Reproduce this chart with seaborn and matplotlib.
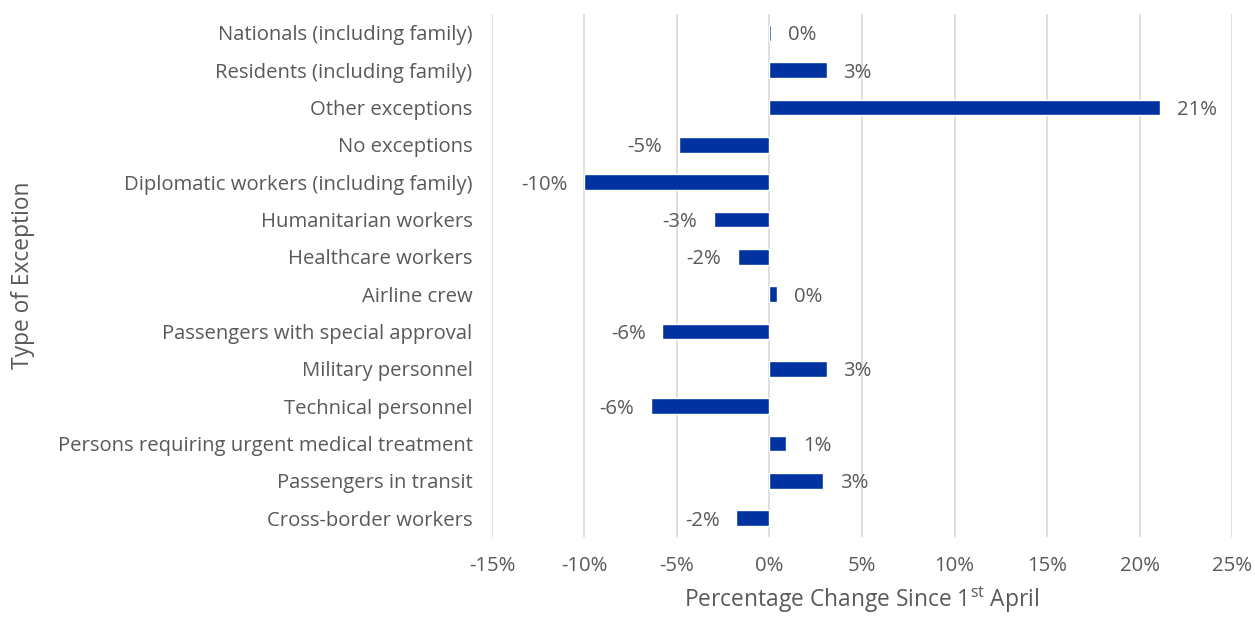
import numpy as np
import pandas as pd
import matplotlib
matplotlib.use("Agg")
import matplotlib.pyplot as plt
import seaborn as sns

# exception types, top to bottom as drawn
exceptions = [
  "Nationals (including family)",
  "Residents (including family)",
  "Other exceptions",
  "No exceptions",
  "Diplomatic workers (including family)",
  "Humanitarian workers",
  "Healthcare workers",
  "Airline crew",
  "Passengers with special approval",
  "Military personnel",
  "Technical personnel",
  "Persons requiring urgent medical treatment",
  "Passengers in transit",
  "Cross-border workers",
]

# percentage change since 1st April
pct_change = [0.1, 3.1, 21.1, -4.9, -10.0, -3.0, -1.7, 0.4, -5.8, 3.1, -6.4, 0.9, 2.9, -1.8]

xticks = [-15, -10, -5, 0, 5, 10, 15, 20, 25]

bar_colour = "#0033A0"
text_colour = "#595959"
fs = 14.6

sns.set_theme(style="white")
plt.rcParams["font.family"] = ["Open Sans", "DejaVu Sans"]
plt.rcParams["mathtext.fontset"] = "custom"
plt.rcParams["mathtext.rm"] = "Open Sans"

df = pd.DataFrame({"exception": exceptions, "change": pct_change})

fig = plt.figure(figsize=(12.55, 6.19), dpi=100)
ax = fig.add_axes([0.392, 0.133, 0.5897, 0.844])

sns.barplot(data=df, x="change", y="exception", orient="h", order=exceptions,
            color=bar_colour, saturation=1, width=0.42, ax=ax, zorder=3)

ax.set_xlim(-15, 25)
ax.set_xticks(xticks)
ax.set_xticklabels(["%d%%" % t for t in xticks])
ax.xaxis.grid(True, color="#d9d9d9", linewidth=1.2, zorder=0)
ax.yaxis.grid(False)
for s in ax.spines.values():
  s.set_visible(False)
ax.tick_params(axis="both", length=0, colors=text_colour, labelsize=fs)
ax.tick_params(axis="x", pad=14)
ax.tick_params(axis="y", pad=14)

# data labels just past bar ends
for i, v in enumerate(pct_change):
  lab = "%.0f%%" % v
  if v >= 0:
    ax.annotate(lab, (v, i), xytext=(12, 0), textcoords="offset points",
                ha="left", va="center_baseline", color=text_colour, fontsize=fs)
  else:
    ax.annotate(lab, (v, i), xytext=(-12, 0), textcoords="offset points",
                ha="right", va="center_baseline", color=text_colour, fontsize=fs)

ax.set_xlabel("Percentage Change Since 1$^{\\mathrm{st}}$ April", color=text_colour,
              fontsize=16.4, labelpad=6)
ax.set_ylabel("Type of Exception", color=text_colour, fontsize=16.4)
ax.yaxis.set_label_coords(-0.617, 0.5)

plt.savefig("out.png", dpi=100)
